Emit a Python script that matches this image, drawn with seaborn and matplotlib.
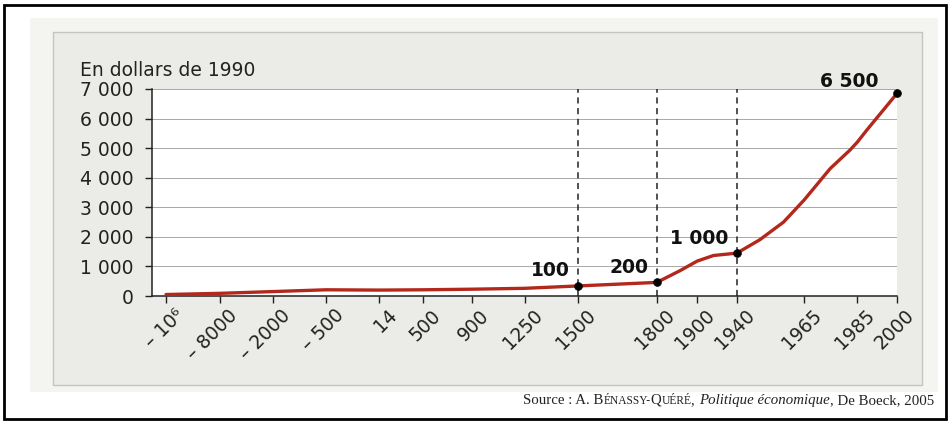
import numpy as np
import pandas as pd
import matplotlib
matplotlib.use("Agg")
import matplotlib.pyplot as plt
import matplotlib.transforms as mtransforms
from matplotlib.patches import Rectangle
import seaborn as sns

# Tick labels of the (non-linear) x axis and where they sit on it
tick_labels = ["– 10⁶", "– 8000", "– 2000", "– 500", "14", "500", "900", "1250",
               "1500", "1800", "1900", "1940", "1965", "1985", "2000"]
tick_pos = [0, 1.02, 2.02, 3.02, 4.02, 4.85, 5.77, 6.77,
            7.77, 9.26, 10.02, 10.77, 12.04, 13.04, 13.79]

# GDP per head curve (axis position, dollars of 1990)
curve_pos = [0, 1.02, 2.02, 3.02, 4.02, 4.85, 5.77, 6.77, 7.77, 9.26, 9.7,
             10.02, 10.33, 10.55, 10.77, 11.2, 11.65, 12.04, 12.53, 12.9,
             13.04, 13.22, 13.79]
curve_val = [50, 90, 150, 210, 200, 210, 230, 260, 340, 460, 860,
             1180, 1370, 1410, 1450, 1900, 2500, 3250, 4310, 4930,
             5200, 5610, 6850]

# Marked points with their printed labels
mark_pos = [7.77, 9.26, 10.77, 13.79]
mark_val = [340, 460, 1450, 6850]
mark_text = ["100", "200", "1 000", "6 500"]
dashed_pos = [7.77, 9.26, 10.77]

y_ticks = [0, 1000, 2000, 3000, 4000, 5000, 6000, 7000]
y_tick_labels = ["0", "1 000", "2 000", "3 000", "4 000", "5 000", "6 000", "7 000"]

df = pd.DataFrame({"pos": curve_pos, "val": curve_val})
marks = pd.DataFrame({"pos": mark_pos, "val": mark_val})

sns.set_style("white")
plt.rcParams["font.family"] = ["DejaVu Sans"]

W, H = 950, 421
fig = plt.figure(figsize=(W / 100, H / 100), dpi=100)
fig.patch.set_facecolor("white")

def px_rect(x0, y0, x1, y1, **kw):
    return Rectangle((x0 / W, 1 - y1 / H), (x1 - x0) / W, (y1 - y0) / H,
                     transform=fig.transFigure, **kw)

# scanned page look: grey panel and black frame
fig.patches.append(px_rect(30, 18, 938, 392, facecolor="#f4f4f1", edgecolor="none", zorder=-3))
fig.patches.append(px_rect(53, 32, 922, 385, facecolor="#ebebe7", edgecolor="#c4c4c0", lw=1, zorder=-2))
fig.patches.append(px_rect(4, 5, 946, 419, facecolor="none", edgecolor="black", lw=2, zorder=5))

ax = fig.add_axes([152 / W, 1 - 296 / H, (897 - 152) / W, (296 - 89) / H])
ax.set_facecolor("white")

for p in dashed_pos:
    ax.axvline(p, color="#222222", lw=1.1, ls=(0, (4, 3)), zorder=2)

sns.lineplot(data=df, x="pos", y="val", ax=ax, color="#b3281b", lw=2.4, zorder=4)
sns.scatterplot(data=marks, x="pos", y="val", ax=ax, color="black", s=32,
                edgecolor="black", zorder=5, clip_on=False)

# label offsets (points) for the marked values
lab_dx = [-6, -6, -6, -13]
lab_dy = [4, 4, 4, 2]
for p, v, t, dx, dy in zip(mark_pos, mark_val, mark_text, lab_dx, lab_dy):
    ax.annotate(t, (p, v), xytext=(dx, dy), textcoords="offset points",
                ha="right", va="bottom", fontsize=13.5, fontweight="bold", color="#111111")

ax.set_xlim(-0.264, 13.79)
ax.set_ylim(0, 7000)
ax.set_yticks(y_ticks)
ax.set_yticklabels(y_tick_labels)
ax.set_xticks(tick_pos)
ax.set_xticklabels(tick_labels)
ax.set_xlabel("")
ax.set_ylabel("")
ax.yaxis.grid(True, color="#a8a8a8", lw=0.7)
ax.set_axisbelow(True)

for s in ["top", "right"]:
    ax.spines[s].set_visible(False)
for s in ["left", "bottom"]:
    ax.spines[s].set_color("#222222")
    ax.spines[s].set_linewidth(1.1)

ax.tick_params(axis="y", left=True, length=5, width=1, pad=8, labelsize=13.5, colors="#222222")
ax.tick_params(axis="x", bottom=True, length=5, width=1, pad=2, labelsize=13.5, colors="#222222")

offset = mtransforms.ScaledTranslation(8 / 100, 0, fig.dpi_scale_trans)
for lab in ax.get_xticklabels():
    lab.set_rotation(45)
    lab.set_ha("right")
    lab.set_va("top")
    lab.set_rotation_mode("anchor")
    lab.set_transform(lab.get_transform() + offset)

fig.text(80 / W, 1 - 76 / H, "En dollars de 1990", fontsize=13.5, color="#222222",
         ha="left", va="baseline")

# source line with small caps and italic title
serif = ["Liberation Serif", "DejaVu Serif"]
t0 = fig.text(523 / W, 1 - 407 / H, "Source : A. B", fontsize=10.7, family=serif,
              ha="left", va="bottom", color="#222222")
pieces = [("ÉNASSY-", 8.3, "normal"), ("Q", 10.7, "normal"), ("UÉRÉ", 8.3, "normal"),
          (", ", 10.7, "normal"), ("Politique économique", 10.7, "italic"),
          (", De Boeck, 2005", 10.7, "normal")]
prev = t0
for txt, size, style in pieces:
    prev = ax.annotate(
        txt, xy=(1, 0), xycoords=(prev, t0), xytext=(0, 0), textcoords="offset points",
        ha="left", va="bottom", fontsize=size, family=serif, style=style,
        color="#222222", annotation_clip=False)

fig.savefig("out.png", dpi=100)
